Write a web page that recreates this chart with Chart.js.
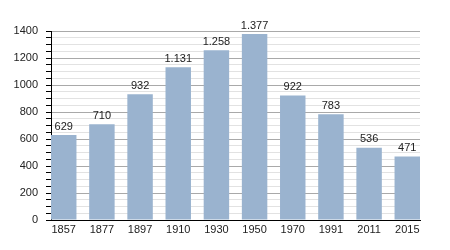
<!DOCTYPE html>
<html>
<head>
<meta charset="utf-8">
<script src="https://cdn.jsdelivr.net/npm/chart.js@4"></script>
<style>
  html, body { margin: 0; padding: 0; background: #fff; }
  #wrap { width: 450px; height: 250px; }
</style>
</head>
<body>
<div id="wrap"><canvas id="myChart" width="450" height="250"></canvas></div>
<script>
// data
const years = ['1857', '1877', '1897', '1910', '1930', '1950', '1970', '1991', '2011', '2015'];
const population = [629, 710, 932, 1131, 1258, 1377, 922, 783, 536, 471];
const yTicks = [0, 200, 400, 600, 800, 1000, 1200, 1400];

const barColor = '#9ab3cf';

const fmt = (v) => String(v).replace(/\B(?=(\d{3})+(?!\d))/g, '.');

// value labels above bars
const barLabels = {
  id: 'barLabels',
  afterDatasetsDraw(chart) {
    const ctx = chart.ctx;
    const meta = chart.getDatasetMeta(0);
    ctx.save();
    ctx.font = '11px "Liberation Sans", Arial, sans-serif';
    ctx.fillStyle = '#222';
    ctx.textAlign = 'center';
    ctx.textBaseline = 'bottom';
    meta.data.forEach((bar, i) => {
      ctx.fillText(fmt(population[i]), bar.x, bar.y - 3);
    });
    ctx.restore();
  }
};

const points = population.map((v, i) => ({ x: i, y: v }));

const config = {
  type: 'bar',
  data: {
    datasets: [{
      data: points,
      backgroundColor: barColor,
      borderWidth: 0,
      categoryPercentage: 1,
      barPercentage: 0.667
    }]
  },
  options: {
    responsive: false,
    animation: false,
    layout: { padding: { top: 31, right: 30, left: 0, bottom: 0 } },
    plugins: {
      legend: { display: false },
      tooltip: { enabled: false }
    },
    scales: {
      x: {
        type: 'linear',
        offset: false,
        min: -0.3335,
        max: 9.3335,
        grid: { display: false, drawTicks: false },
        border: { display: true, color: '#000', width: 1 },
        ticks: {
          autoSkip: false,
          maxRotation: 0,
          padding: 3,
          color: '#222',
          font: { family: '"Liberation Sans", Arial, sans-serif', size: 11 },
          callback: (v) => years[v]
        },
        afterBuildTicks: (scale) => { scale.ticks = years.map((y, i) => ({ value: i })); },
        afterFit: (scale) => { scale.height = 30; }
      },
      y: {
        min: 0,
        max: 1400,
        grid: {
          color: (c) => (c.tick && yTicks.includes(c.tick.value)) ? '#a9a9a9' : '#e2e2e2',
          tickColor: '#000',
          tickLength: 5
        },
        border: { display: true, color: '#000', width: 1 },
        ticks: {
          stepSize: 50,
          autoSkip: false,
          padding: 8,
          color: '#222',
          font: { family: '"Liberation Sans", Arial, sans-serif', size: 11 },
          callback: (v) => yTicks.includes(v) ? String(v) : ''
        },
        afterFit: (scale) => { scale.width = 51; }
      }
    }
  },
  plugins: [barLabels]
};

new Chart(document.getElementById('myChart').getContext('2d'), config);
</script>
</body>
</html>
